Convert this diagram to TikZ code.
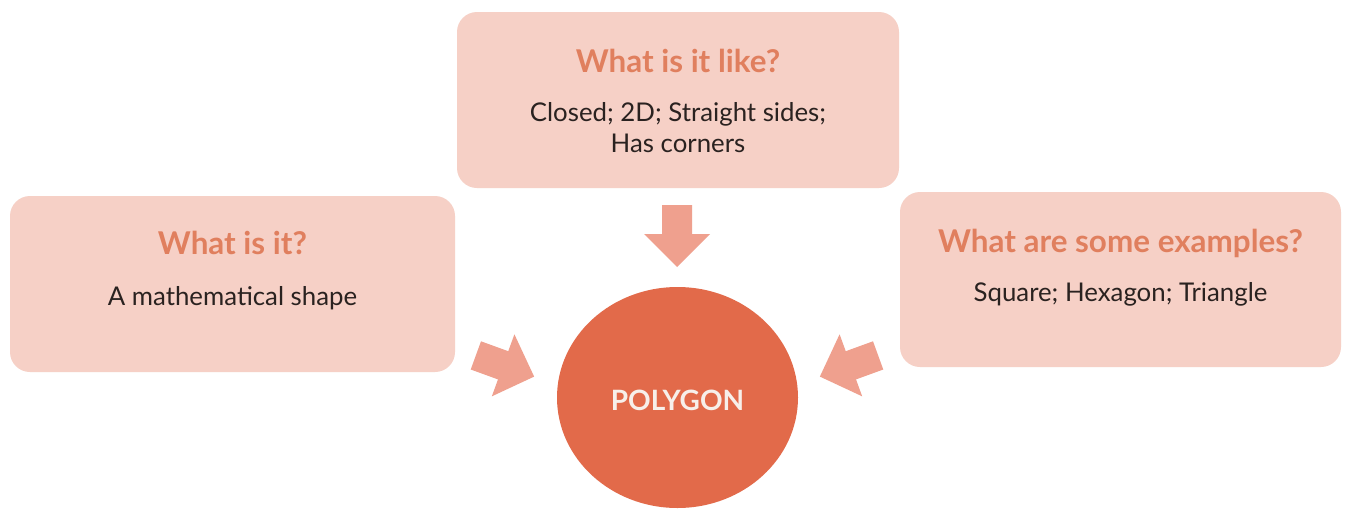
\documentclass[tikz,border=0pt]{standalone}
\usepackage{fontspec}
\setmainfont{Lato}
\definecolor{boxfill}{HTML}{F6D0C6}
\definecolor{titlecol}{HTML}{E07F5E}
\definecolor{circfill}{HTML}{E26A4A}
\definecolor{arrowcol}{HTML}{EFA08E}
\definecolor{bodycol}{HTML}{2A2220}
\definecolor{polycol}{HTML}{F7EFEA}
\begin{document}
\begin{tikzpicture}[x=1pt,y=-1pt,
  infobox/.style={rounded corners=20pt, fill=boxfill, draw=none},
  titletext/.style={anchor=base, inner sep=0pt, text=titlecol, font=\fontsize{31.4}{37}\selectfont\bfseries},
  bodytext/.style={anchor=base, inner sep=0pt, text=bodycol, align=center, font=\fontsize{25.8}{31}\selectfont},
  blockarrow/.pic={\fill[arrowcol] (-31,-15) -- (-2,-15) -- (-2,-33) -- (31,0) -- (-2,33) -- (-2,15) -- (-31,15) -- cycle;}
]
\useasboundingbox (0,0) rectangle (1345,509);
\fill[white] (0,0) rectangle (1345,509);
% boxes
\path[infobox] (10,196) rectangle (455,372);
\path[infobox] (457,12) rectangle (899,188);
\path[infobox] (900,192) rectangle (1341,367);
\node[titletext] (t1) at (232.5,254) {What is it?};
\node[bodytext] (b1) at (232.5,305) {A mathematical shape};
\node[titletext] (t2) at (678,72) {What is it like?};
\node[bodytext] (b2) at (678,121) {Closed; 2D; Straight sides;};
\node[bodytext] (b2b) at (678,152) {Has corners};
\node[titletext] (t3) at (1120.5,252) {What are some examples?};
\node[bodytext] (b3) at (1120.5,301) {Square; Hexagon; Triangle};
% circle
\fill[circfill] (677.5,397.5) ellipse [x radius=120.5, y radius=110.5];
\node[anchor=base, inner sep=0pt, text=polycol, font=\fontsize{28}{33}\selectfont\bfseries] (poly) at (677.5,410) {POLYGON};
% arrows
\pic[rotate=-90] at (677,236) {blockarrow};
\pic[rotate=-20] at (505,366) {blockarrow};
\pic[rotate=200] at (849,366) {blockarrow};
\end{tikzpicture}
\end{document}
